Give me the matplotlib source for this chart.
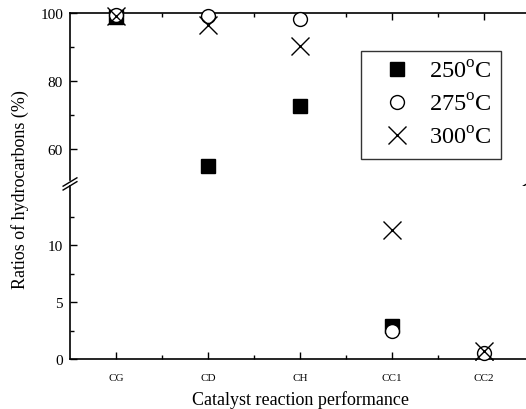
import numpy as np
import matplotlib
matplotlib.use('Agg')
import matplotlib.pyplot as plt

plt.rcParams['font.family'] = ['Liberation Serif', 'DejaVu Serif']
plt.rcParams['mathtext.fontset'] = 'custom'
plt.rcParams['mathtext.rm'] = 'Liberation Serif'

# Data
catalysts = ['CG', 'CD', 'CH', 'CC1', 'CC2']
t250 = [98.8, 55.0, 72.6, 2.9, np.nan]
t275 = [99.5, 99.0, 98.2, 2.5, 0.5]
t300 = [99.0, 96.5, 90.3, 11.3, 0.7]
labels = ['250$^{\\mathrm{o}}$C', '275$^{\\mathrm{o}}$C', '300$^{\\mathrm{o}}$C']

x = np.arange(1, len(catalysts) + 1)

fig = plt.figure(figsize=(5.26, 4.10), dpi=100)
W, H = 526, 410
left = 70 / W
width = 460 / W
ax_top = fig.add_axes([left, (H - 181) / H, width, 167 / H])
ax_bot = fig.add_axes([left, (H - 360) / H, width, 173 / H])

for ax in (ax_top, ax_bot):
    ax.plot(x, t250, ls='none', marker='s', ms=9.5, color='black', zorder=3, clip_on=False)
    ax.plot(x, t275, ls='none', marker='o', ms=10, mfc='white', mec='black', mew=1.0, zorder=4, clip_on=False)
    ax.plot(x, t300, ls='none', marker='x', ms=13, color='black', mew=1.0, zorder=5, clip_on=False)
    ax.set_xlim(0.5, 5.5)
    ax.set_xticks(x)
    ax.set_xticks(x[:-1] + 0.5, minor=True)
    for s in ax.spines.values():
        s.set_linewidth(1.2)
    ax.tick_params(which='both', direction='in', width=1.0)
    ax.tick_params(which='major', length=5)
    ax.tick_params(which='minor', length=3)

ax_top.set_ylim(51, 100)
ax_top.set_yticks([60, 80, 100])
ax_top.set_yticks([70, 90], minor=True)
ax_top.spines['bottom'].set_visible(False)
ax_top.tick_params(axis='x', which='both', bottom=False, top=True, labelbottom=False)
ax_top.tick_params(axis='y', labelsize=11, pad=5)

ax_bot.set_ylim(0, 15.2)
ax_bot.set_yticks([0, 5, 10])
ax_bot.set_yticks([2.5, 7.5, 12.5], minor=True)
ax_bot.spines['top'].set_visible(False)
ax_bot.set_xticklabels(catalysts, fontsize=8)
ax_bot.tick_params(axis='y', labelsize=11, pad=5)
ax_bot.tick_params(axis='x', pad=10)

# break marks
for xa in (0, 1):
    for yy in (-0.012, -0.035):
        ax_top.plot([xa - 0.015, xa + 0.015], [yy - 0.025, yy + 0.025],
                    transform=ax_top.transAxes, color='black', lw=1.0, clip_on=False)

ax_bot.set_xlabel('Catalyst reaction performance', fontsize=13, labelpad=6)
fig.text(20 / W, (H - 190) / H, 'Ratios of hydrocarbons (%)', rotation=90,
         fontsize=13, va='center', ha='center')

handles = ax_top.get_lines()[:3]
leg = fig.legend(handles, labels, loc='upper right',
                 bbox_to_anchor=(501 / W, (H - 52) / H), frameon=True, fancybox=False,
                 edgecolor='black', fontsize=17.5, handlelength=2.2, handletextpad=0.2,
                 borderpad=0.4, labelspacing=0.45, borderaxespad=0)
leg.get_frame().set_linewidth(1.0)

plt.savefig('out.png', dpi=100)
